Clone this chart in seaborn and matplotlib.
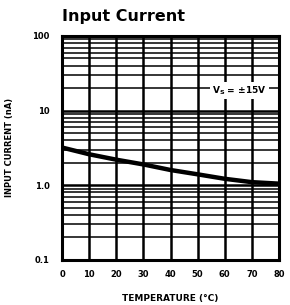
import numpy as np
import pandas as pd
import seaborn as sns
import matplotlib.pyplot as plt
from matplotlib.ticker import FixedLocator, LogLocator, NullFormatter

# curve
temperature = [0, 10, 20, 30, 40, 50, 60, 70, 80]
current_na = [3.2, 2.6, 2.2, 1.9, 1.6, 1.4, 1.22, 1.1, 1.05]

x_ticks = [0, 10, 20, 30, 40, 50, 60, 70, 80]
x_labels = ['0', '10', '20', '30', '40', '50', '60', '70', '80']
y_ticks = [0.1, 1.0, 10, 100]
y_labels = ['0.1', '1.0', '10', '100']

df = pd.DataFrame({'temp': temperature, 'current': current_na})

sns.set_style('white', rc={'text.color': 'black', 'axes.labelcolor': 'black',
                           'xtick.color': 'black', 'ytick.color': 'black'})
fig = plt.figure(figsize=(2.9, 3.05), dpi=100)
ax = fig.add_axes([0.214, 0.148, 0.748, 0.734])

sns.lineplot(data=df, x='temp', y='current', ax=ax, color='black', linewidth=3.2, zorder=5)

ax.set_yscale('log')
ax.set_xlim(0, 80)
ax.set_ylim(0.1, 100)

ax.xaxis.set_major_locator(FixedLocator(x_ticks))
ax.set_xticklabels(x_labels)
ax.yaxis.set_major_locator(FixedLocator(y_ticks))
ax.set_yticklabels(y_labels)
ax.yaxis.set_minor_locator(LogLocator(base=10, subs=np.arange(2, 10)))
ax.yaxis.set_minor_formatter(NullFormatter())

ax.grid(which='major', axis='both', color='black', linewidth=1.8)
ax.grid(which='minor', axis='y', color='black', linewidth=1.1)
ax.tick_params(axis='y', which='both', length=0, labelsize=6, pad=9)
ax.tick_params(axis='x', which='both', length=0, labelsize=6, pad=7)
for lab in ax.get_xticklabels() + ax.get_yticklabels():
    lab.set_fontweight('bold')

for s in ax.spines.values():
    s.set_linewidth(2.2)
    s.set_color('black')

ax.set_xlabel('TEMPERATURE (°C)', fontsize=6.5, fontweight='bold', labelpad=11)
ax.set_ylabel('INPUT CURRENT (nA)', fontsize=6, fontweight='bold', labelpad=13)

ax.text(65.5, 18.5, r'V$_\mathregular{S}$ = ±15V', fontsize=6.5, fontweight='bold',
        ha='center', va='center', zorder=6,
        bbox=dict(facecolor='white', edgecolor='none', pad=1.5))

fig.text(0.214, 0.945, 'Input Current', fontsize=11.5, fontweight='bold', ha='left', va='center')

fig.savefig('out.png', dpi=100)
